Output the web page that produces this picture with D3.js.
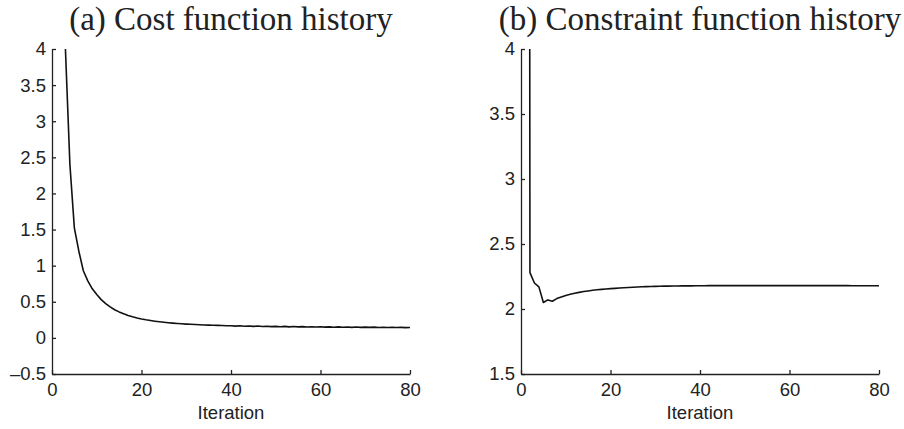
<!DOCTYPE html>
<html>
<head>
<meta charset="utf-8">
<script src="https://cdn.jsdelivr.net/npm/d3@7/dist/d3.min.js"></script>
<style>
  body { margin: 0; background: #fff; }
  svg { display: block; }
  .title { font-family: "Liberation Serif", "Times New Roman", serif; font-size: 33px; fill: #222; }
  .axis text { font-family: "Liberation Sans", Arial, sans-serif; font-size: 18.5px; fill: #222; }
  .axis path, .axis line { stroke: #222; stroke-width: 1.3; }
  .xlabel { font-family: "Liberation Sans", Arial, sans-serif; font-size: 18.5px; fill: #222; }
  .series { fill: none; stroke: #111; stroke-width: 1.6; stroke-linejoin: round; }
</style>
</head>
<body>
<svg id="chart" width="904" height="429"></svg>
<script>
var WIDTH = 904, HEIGHT = 429;

// cost function, iterations 3..80
var costStart = 3;
var costValues = [
  4.00, 2.40, 1.52, 1.20, 0.93, 0.79, 0.68, 0.60, 0.53, 0.475,
  0.43, 0.39, 0.36, 0.335, 0.31, 0.292, 0.276, 0.262, 0.250, 0.240,
  0.231, 0.223, 0.216, 0.210, 0.204, 0.199, 0.195, 0.191, 0.188, 0.185,
  0.182, 0.179, 0.177, 0.175, 0.173, 0.171, 0.169, 0.168, 0.163, 0.168,
  0.161, 0.165, 0.159, 0.164, 0.157, 0.162, 0.156, 0.160, 0.154, 0.159,
  0.153, 0.157, 0.152, 0.156, 0.151, 0.155, 0.150, 0.154, 0.149, 0.153,
  0.148, 0.152, 0.147, 0.151, 0.146, 0.150, 0.146, 0.149, 0.145, 0.149,
  0.144, 0.148, 0.144, 0.147, 0.143, 0.146, 0.142, 0.144
];

// constraint function, iterations 1..80
var constraintStart = 1;
var constraintValues = [
  40.0, 2.28, 2.20, 2.17, 2.05, 2.07, 2.06, 2.08, 2.093, 2.104,
  2.113, 2.121, 2.128, 2.134, 2.139, 2.144, 2.148, 2.151, 2.154, 2.157,
  2.159, 2.161, 2.163, 2.165, 2.167, 2.169, 2.171, 2.172, 2.173, 2.174,
  2.175, 2.176, 2.176, 2.177, 2.177, 2.178, 2.178, 2.178, 2.179, 2.179,
  2.179, 2.180, 2.180, 2.180, 2.180, 2.180, 2.180, 2.180, 2.180, 2.180,
  2.180, 2.180, 2.180, 2.180, 2.180, 2.180, 2.180, 2.180, 2.180, 2.180,
  2.180, 2.180, 2.180, 2.180, 2.180, 2.180, 2.180, 2.180, 2.180, 2.180,
  2.180, 2.180, 2.180, 2.179, 2.179, 2.179, 2.179, 2.179, 2.179, 2.179
];

var xTicks = [0, 20, 40, 60, 80];
var costTicks = [-0.5, 0, 0.5, 1, 1.5, 2, 2.5, 3, 3.5, 4];
var constraintTicks = [1.5, 2, 2.5, 3, 3.5, 4];

var panels = [
  { id: "a", title: "(a) Cost function history", start: costStart, values: costValues,
    yDomain: [-0.5, 4], yTicks: costTicks, left: 52, right: 410 },
  { id: "b", title: "(b) Constraint function history", start: constraintStart, values: constraintValues,
    yDomain: [1.5, 4], yTicks: constraintTicks, left: 521, right: 879 }
];

var PLOT_TOP = 49, PLOT_BOTTOM = 374;

var svg = d3.select("#chart");

function tickFormat(d) {
  return d < 0 ? "\u2013" + Math.abs(d) : String(d);
}

panels.forEach(function(p) {
  var x = d3.scaleLinear().domain([0, 80]).range([p.left, p.right]);
  var y = d3.scaleLinear().domain(p.yDomain).range([PLOT_BOTTOM, PLOT_TOP]);

  var g = svg.append("g").attr("class", "panel");

  g.append("clipPath").attr("id", "clip-" + p.id)
    .append("rect")
    .attr("x", p.left).attr("y", PLOT_TOP)
    .attr("width", p.right - p.left).attr("height", PLOT_BOTTOM - PLOT_TOP);

  g.append("text")
    .attr("class", "title")
    .attr("x", (p.left + p.right) / 2)
    .attr("y", 29.5)
    .attr("text-anchor", "middle")
    .text(p.title);

  g.append("g")
    .attr("class", "axis")
    .attr("transform", "translate(0," + PLOT_BOTTOM + ")")
    .call(d3.axisBottom(x).tickValues(xTicks).tickSizeInner(-4).tickSizeOuter(0).tickPadding(9));

  g.append("g")
    .attr("class", "axis")
    .attr("transform", "translate(" + p.left + ",0)")
    .call(d3.axisLeft(y).tickValues(p.yTicks).tickFormat(tickFormat).tickSizeInner(-4).tickSizeOuter(0).tickPadding(6));

  g.append("text")
    .attr("class", "xlabel")
    .attr("x", (p.left + p.right) / 2)
    .attr("y", 419)
    .attr("text-anchor", "middle")
    .text("Iteration");

  var line = d3.line()
    .x(function(d, i) { return x(p.start + i); })
    .y(function(d) { return y(d); });

  g.append("path")
    .datum(p.values)
    .attr("class", "series")
    .attr("clip-path", "url(#clip-" + p.id + ")")
    .attr("d", line);
});
</script>
</body>
</html>
